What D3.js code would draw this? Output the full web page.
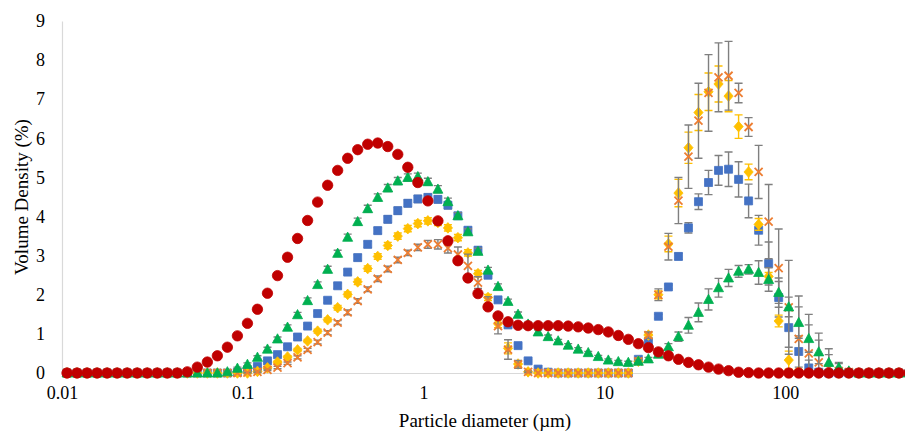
<!DOCTYPE html>
<html>
<head>
<meta charset="utf-8">
<script src="https://cdn.jsdelivr.net/npm/d3@7"></script>
<style>
  body { margin: 0; background: #fff; }
  text { font-family: "Liberation Serif", "Times New Roman", serif; fill: #000; }
</style>
</head>
<body>
<div id="area"></div>
<script>
// particle size classes (um), geometric centres
var sizes = [0.01066, 0.01211, 0.01376, 0.01563, 0.01776, 0.02018, 0.02293, 0.02605, 0.0296, 0.03363,
  0.03821, 0.04341, 0.04932, 0.05604, 0.06367, 0.07233, 0.08218, 0.09337, 0.1061, 0.1205,
  0.1369, 0.1556, 0.1768, 0.2008, 0.2282, 0.2593, 0.2946, 0.3347, 0.3802, 0.432,
  0.4908, 0.5576, 0.6336, 0.7198, 0.8178, 0.9292, 1.056, 1.2, 1.363, 1.548,
  1.759, 1.999, 2.271, 2.58, 2.931, 3.33, 3.784, 4.299, 4.884, 5.549,
  6.305, 7.163, 8.139, 9.247, 10.51, 11.94, 13.56, 15.41, 17.51, 19.89,
  22.6, 25.68, 29.17, 33.14, 37.66, 42.78, 48.61, 55.23, 62.74, 71.29,
  80.99, 92.02, 104.6, 118.8, 135, 153.3, 174.2, 197.9, 224.9, 255.5,
  290.3, 329.8, 374.7, 425.8, 483.7];

var red = [0, 0, 0, 0, 0, 0, 0, 0, 0, 0,
  0, 0, 0.03, 0.15, 0.28, 0.44, 0.66, 0.95, 1.27, 1.63,
  2.04, 2.49, 2.96, 3.44, 3.9, 4.37, 4.8, 5.18, 5.49, 5.71,
  5.85, 5.88, 5.79, 5.59, 5.26, 4.87, 4.4, 3.89, 3.38, 2.87,
  2.43, 2.03, 1.69, 1.46, 1.31, 1.22, 1.21, 1.21, 1.21, 1.21,
  1.2, 1.18, 1.15, 1.11, 1.05, 0.96, 0.86, 0.75, 0.65, 0.54,
  0.44, 0.35, 0.27, 0.21, 0.15, 0.1, 0.06, 0.02, 0.01, 0,
  0, 0, 0, 0, 0, 0, 0, 0, 0, 0,
  0, 0, 0, 0, 0];

var green = [0, 0, 0, 0, 0, 0, 0, 0, 0, 0,
  0, 0, 0, 0, 0, 0, 0.03, 0.12, 0.22, 0.4,
  0.61, 0.87, 1.17, 1.49, 1.85, 2.26, 2.65, 3.06, 3.47, 3.87,
  4.2, 4.49, 4.73, 4.91, 5.0, 5.02, 4.89, 4.7, 4.38, 4.02,
  3.61, 3.11, 2.63, 2.21, 1.83, 1.5, 1.25, 1.05, 0.93, 0.82,
  0.71, 0.61, 0.52, 0.42, 0.33, 0.29, 0.27, 0.3, 0.36, 0.48,
  0.67, 0.93, 1.22, 1.55, 1.88, 2.18, 2.43, 2.6, 2.65, 2.57,
  2.39, 2.06, 1.69, 1.29, 0.88, 0.54, 0.27, 0.14, 0.05, 0,
  0, 0, 0, 0, 0];
var greenErr = [0, 0, 0, 0, 0, 0, 0, 0, 0, 0,
  0, 0, 0, 0, 0, 0, 0.02, 0.03, 0.04, 0.04,
  0.05, 0.05, 0.06, 0.06, 0.07, 0.07, 0.08, 0.08, 0.08, 0.09,
  0.09, 0.09, 0.09, 0.09, 0.09, 0.09, 0.09, 0.09, 0.09, 0.08,
  0.08, 0.08, 0.07, 0.07, 0.06, 0.06, 0.05, 0.05, 0.04, 0.04,
  0.04, 0.04, 0.03, 0.03, 0.03, 0.03, 0.03, 0.03, 0.04, 0.05,
  0.08, 0.12, 0.2, 0.24, 0.27, 0.24, 0.22, 0.15, 0.12, 0.3,
  0.3, 0.28, 0.25, 0.4, 0.35, 0.3, 0.2, 0.1, 0.05, 0,
  0, 0, 0, 0, 0];

var blue = [0, 0, 0, 0, 0, 0, 0, 0, 0, 0,
  0, 0, 0, 0, 0, 0, 0, 0.02, 0.08, 0.17,
  0.31, 0.47, 0.67, 0.92, 1.2, 1.52, 1.86, 2.23, 2.58, 2.95,
  3.29, 3.64, 3.93, 4.15, 4.34, 4.45, 4.49, 4.44, 4.29, 4.02,
  3.65, 3.14, 2.5, 1.87, 1.23, 0.7, 0.31, 0.1, 0.02, 0,
  0, 0, 0, 0, 0, 0, 0, 0.35, 0.8, 1.45,
  2.2, 2.98, 3.71, 4.38, 4.87, 5.18, 5.21, 4.95, 4.4, 3.65,
  2.8, 1.93, 1.16, 0.55, 0.13, 0.02, 0, 0, 0, 0,
  0, 0, 0, 0, 0];
var blueErr = [0, 0, 0, 0, 0, 0, 0, 0, 0, 0,
  0, 0, 0, 0, 0, 0, 0, 0.02, 0.02, 0.03,
  0.03, 0.04, 0.04, 0.05, 0.05, 0.06, 0.06, 0.07, 0.07, 0.08,
  0.08, 0.08, 0.09, 0.09, 0.09, 0.09, 0.09, 0.09, 0.09, 0.08,
  0.08, 0.08, 0.07, 0.06, 0.05, 0.04, 0.03, 0.02, 0.01, 0,
  0, 0, 0, 0, 0, 0, 0, 0.03, 0.05, 0.05,
  0.05, 0.08, 0.13, 0.2, 0.31, 0.38, 0.44, 0.45, 0.43, 0.38,
  0.55, 0.5, 0.5, 0.4, 0.2, 0.05, 0, 0, 0, 0,
  0, 0, 0, 0, 0];

var yellow = [0, 0, 0, 0, 0, 0, 0, 0, 0, 0,
  0, 0, 0, 0, 0, 0, 0, 0, 0, 0.04,
  0.13, 0.28, 0.41, 0.59, 0.82, 1.07, 1.36, 1.67, 2.01, 2.33,
  2.67, 2.98, 3.26, 3.5, 3.69, 3.82, 3.89, 3.85, 3.71, 3.46,
  3.07, 2.54, 1.93, 1.26, 0.63, 0.23, 0.03, 0, 0, 0,
  0, 0, 0, 0, 0, 0, 0, 0.3, 0.97, 2.0,
  3.3, 4.6, 5.76, 6.66, 7.19, 7.39, 7.08, 6.3, 5.14, 3.8,
  2.47, 1.33, 0.33, 0.04, 0, 0, 0, 0, 0, 0,
  0, 0, 0, 0, 0];
var yellowErr = [0, 0, 0, 0, 0, 0, 0, 0, 0, 0,
  0, 0, 0, 0, 0, 0, 0, 0, 0, 0.02,
  0.02, 0.03, 0.03, 0.04, 0.04, 0.05, 0.05, 0.06, 0.06, 0.07,
  0.07, 0.07, 0.08, 0.08, 0.08, 0.08, 0.08, 0.08, 0.08, 0.08,
  0.08, 0.08, 0.08, 0.1, 0.14, 0.06, 0.02, 0, 0, 0,
  0, 0, 0, 0, 0, 0, 0, 0.03, 0.06, 0.1,
  0.2, 0.35, 0.4, 0.46, 0.48, 0.46, 0.4, 0.3, 0.2, 0.15,
  0.1, 0.15, 0.23, 0.05, 0, 0, 0, 0, 0, 0,
  0, 0, 0, 0, 0];

var orange = [0, 0, 0, 0, 0, 0, 0, 0, 0, 0,
  0, 0, 0, 0, 0, 0, 0, 0, 0.01, 0.03,
  0.08, 0.14, 0.25, 0.4, 0.59, 0.79, 1.03, 1.29, 1.55, 1.84,
  2.14, 2.41, 2.66, 2.89, 3.07, 3.21, 3.29, 3.29, 3.19, 3.03,
  2.74, 2.31, 1.85, 1.2, 0.6, 0.22, 0.03, 0, 0, 0,
  0, 0, 0, 0, 0, 0, 0, 0.3, 0.97, 2.0,
  3.23, 4.41, 5.53, 6.45, 7.16, 7.56, 7.6, 7.16, 6.29, 5.14,
  3.87, 2.68, 1.68, 0.87, 0.5, 0.27, 0.12, 0.05, 0.02, 0,
  0, 0, 0, 0, 0];
var orangeErr = [0, 0, 0, 0, 0, 0, 0, 0, 0, 0,
  0, 0, 0, 0, 0, 0, 0, 0, 0.01, 0.02,
  0.02, 0.03, 0.03, 0.04, 0.04, 0.05, 0.05, 0.05, 0.06, 0.06,
  0.06, 0.07, 0.07, 0.07, 0.07, 0.08, 0.1, 0.12, 0.12, 0.19,
  0.3, 0.15, 0.1, 0.2, 0.25, 0.1, 0.02, 0, 0, 0,
  0, 0, 0, 0, 0, 0, 0, 0.04, 0.08, 0.15,
  0.34, 0.59, 0.81, 0.96, 0.98, 0.88, 0.88, 0.25, 0.24, 0.68,
  0.95, 1.0, 1.2, 1.1, 1.0, 0.75, 0.5, 0.22, 0.05, 0,
  0, 0, 0, 0, 0];

var xTicks = [0.01, 0.1, 1, 10, 100];
var yTicks = [0, 1, 2, 3, 4, 5, 6, 7, 8, 9];

var width = 905, height = 433;
var marginLeft = 62, axisBottom = 373, axisTop = 21, decade = 180.8;

var svg = d3.select("#area")
.append("svg")
  .attr("width", width)
  .attr("height", height)
  .style("display", "block");

var x = d3.scaleLog()
.domain([0.01, 1000])
.range([marginLeft, marginLeft + 5 * decade]);

var y = d3.scaleLinear()
.domain([0, 9])
.range([axisBottom, axisTop]);

// axes
var xAxis = svg.append("g")
.attr("transform", "translate(0," + axisBottom + ")")
.call(d3.axisBottom(x).tickValues(xTicks).tickFormat(function(d){ return String(d); })
  .tickSizeInner(0).tickSizeOuter(0).tickPadding(13));
xAxis.select(".domain").attr("stroke", "#d9d9d9").attr("stroke-width", 1.2);
xAxis.selectAll("text").style("font-size", "18px").style("font-family", "'Liberation Serif', serif").attr("fill", "#000");

var yAxis = svg.append("g")
.attr("transform", "translate(" + marginLeft + ",0)")
.call(d3.axisLeft(y).tickValues(yTicks).tickSizeInner(0).tickSizeOuter(0).tickPadding(17));
yAxis.select(".domain").attr("stroke", "#d9d9d9").attr("stroke-width", 1.2);
yAxis.selectAll("text").style("font-size", "18px").style("font-family", "'Liberation Serif', serif").attr("fill", "#000");

svg.append("text")
  .attr("x", 485)
  .attr("y", 427)
  .attr("text-anchor", "middle")
  .style("font-size", "19px")
  .text("Particle diameter (µm)");

svg.append("text")
  .attr("transform", "translate(28,197) rotate(-90)")
  .attr("text-anchor", "middle")
  .style("font-size", "19px")
  .text("Volume Density (%)");

// marker shapes
var shapes = {
  circle: "M-5.2,0a5.2,5.2 0 1,0 10.4,0a5.2,5.2 0 1,0 -10.4,0Z",
  triangle: "M0,-5.2L5,4L-5,4Z",
  square: "M-4,-4H4V4H-4Z",
  diamond: "M0,-5.3L4.6,0L0,5.3L-4.6,0Z",
  cross: "M-4,-4L4,4M4,-4L-4,4"
};

function drawSeries(vals, errs, color, errColor, shape) {
  var pts = sizes.map(function(s, i) { return {s: s, v: vals[i], e: errs ? errs[i] : 0}; });
  var g = svg.append("g");

  g.selectAll(".err")
  .data(pts.filter(function(d) { return d.e > 0; }))
  .enter()
  .append("path")
    .attr("d", function(d) {
      var cx = x(d.s), yt = y(d.v + d.e), yb = y(Math.max(0, d.v - d.e));
      var p = "M" + (cx - 4) + "," + yt + "H" + (cx + 4) + "M" + cx + "," + yt + "V" + yb;
      if (d.v - d.e >= 0) p += "M" + (cx - 4) + "," + yb + "H" + (cx + 4);
      return p;
    })
    .attr("fill", "none")
    .attr("stroke", errColor)
    .attr("stroke-width", 1.4);

  g.selectAll(".pt")
  .data(pts)
  .enter()
  .append("path")
    .attr("transform", function(d) { return "translate(" + x(d.s) + "," + y(d.v) + ")"; })
    .attr("d", shapes[shape])
    .attr("fill", shape == "cross" ? "none" : color)
    .attr("stroke", color)
    .attr("stroke-width", shape == "cross" ? 1.8 : 0.8);
}

drawSeries(blue, blueErr, "#4472C4", "#7f7f7f", "square");
drawSeries(yellow, yellowErr, "#FFC000", "#FFC000", "diamond");
drawSeries(orange, orangeErr, "#ED7D31", "#7f7f7f", "cross");
drawSeries(green, greenErr, "#00B050", "#7f7f7f", "triangle");
drawSeries(red, null, "#C00000", null, "circle");
</script>
</body>
</html>
